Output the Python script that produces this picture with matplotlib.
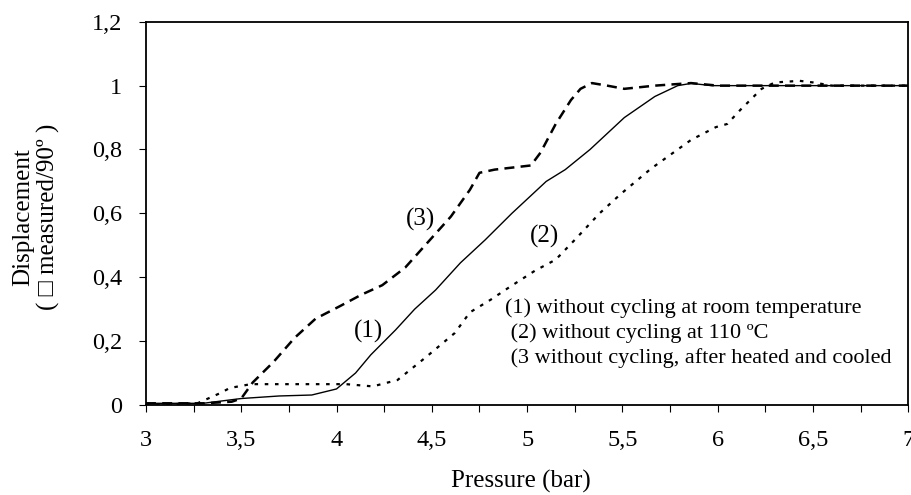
import numpy as np
import matplotlib
matplotlib.use("Agg")
import matplotlib.pyplot as plt
from matplotlib.ticker import MultipleLocator, FuncFormatter

plt.rcParams['font.family'] = ['Liberation Serif', 'DejaVu Serif']

# (1) without cycling at room temperature - solid
p1 = [3.0, 3.3, 3.5, 3.7, 3.87, 4.0, 4.1, 4.18, 4.31, 4.41, 4.52, 4.65, 4.78, 4.92,
      5.1, 5.2, 5.33, 5.51, 5.67, 5.79, 5.86, 5.97, 6.5, 7.0]
d1 = [0.005, 0.005, 0.02, 0.028, 0.031, 0.05, 0.1, 0.157, 0.235, 0.30, 0.36, 0.445,
      0.517, 0.60, 0.70, 0.737, 0.80, 0.90, 0.966, 1.0, 1.007, 1.0, 1.0, 1.0]

# (2) without cycling at 110 C - dotted
p2 = [3.0, 3.27, 3.39, 3.44, 3.55, 4.05, 4.19, 4.32, 4.47, 4.62, 4.7, 4.81, 4.91, 5.04,
      5.15, 5.25, 5.38, 5.49, 5.65, 5.86, 5.99, 6.05, 6.12, 6.23, 6.3, 6.43, 6.5, 6.6, 7.0]
d2 = [0.0, 0.005, 0.037, 0.053, 0.065, 0.065, 0.058, 0.078, 0.15, 0.225, 0.29, 0.33,
      0.37, 0.42, 0.455, 0.517, 0.60, 0.66, 0.74, 0.83, 0.87, 0.88, 0.925, 0.99, 1.01,
      1.015, 1.01, 1.0, 1.0]

# (3) after heated and cooled - dashed
p3 = [3.0, 3.3, 3.45, 3.5, 3.56, 3.67, 3.78, 3.89, 4.02, 4.13, 4.24, 4.36, 4.48, 4.6,
      4.7, 4.75, 4.83, 5.02, 5.07, 5.15, 5.23, 5.28, 5.34, 5.42, 5.51, 5.67, 5.86, 6.0, 7.0]
d3 = [0.005, 0.005, 0.01, 0.02, 0.07, 0.135, 0.21, 0.27, 0.31, 0.345, 0.375, 0.43,
      0.51, 0.59, 0.674, 0.727, 0.737, 0.75, 0.79, 0.88, 0.955, 0.99, 1.008, 1.0, 0.99,
      1.0, 1.008, 1.0, 1.0]

notes = ["(1) without cycling at room temperature",
         " (2) without cycling at 110 \u00baC",
         " (3 without cycling, after heated and cooled"]

fig = plt.figure(figsize=(9.12, 4.95), dpi=100)
ax = fig.add_axes([0.160, 0.182, 0.836, 0.774])

ax.plot(p1, d1, color='black', lw=1.0, ls='-')
ax.plot(p2, d2, color='black', lw=1.6, ls=(0, (1.6, 3)))
ax.plot(p3, d3, color='black', lw=1.8, ls=(0, (4, 2.5)))

ax.set_xlim(3, 7)
ax.set_ylim(0, 1.2)
ax.xaxis.set_major_locator(MultipleLocator(0.5))
ax.xaxis.set_minor_locator(MultipleLocator(0.25))
ax.yaxis.set_major_locator(MultipleLocator(0.2))

def comma(v, pos):
    s = ('%.2f' % v).rstrip('0').rstrip('.')
    return s.replace('.', ',')

ax.xaxis.set_major_formatter(FuncFormatter(comma))
ax.yaxis.set_major_formatter(FuncFormatter(comma))
ax.tick_params(axis='both', which='both', direction='out', length=5, width=0.8,
               labelsize=17.5, colors='black')
ax.tick_params(axis='x', pad=13)
ax.tick_params(axis='y', pad=12)
for s in ax.spines.values():
    s.set_linewidth(1.3)

ax.set_xlabel("Pressure (bar)", fontsize=18)
ax.xaxis.set_label_coords(0.492, -0.17)
ax.set_ylabel("Displacement\n( \u25a1 measured/90\u00ba )", fontsize=18, linespacing=1.15)
ax.yaxis.set_label_coords(-0.113, 0.49)

ax.text(4.44, 0.58, "(3)", fontsize=18, ha='center', va='center')
ax.text(4.17, 0.23, "(1)", fontsize=18, ha='center', va='center')
ax.text(5.09, 0.527, "(2)", fontsize=18, ha='center', va='center')

ax.text(4.885, 0.304, notes[0], fontsize=16, ha='left', va='center')
ax.text(4.885, 0.226, notes[1], fontsize=16, ha='left', va='center')
ax.text(4.885, 0.147, notes[2], fontsize=16, ha='left', va='center')

fig.savefig("out.png", dpi=100)
